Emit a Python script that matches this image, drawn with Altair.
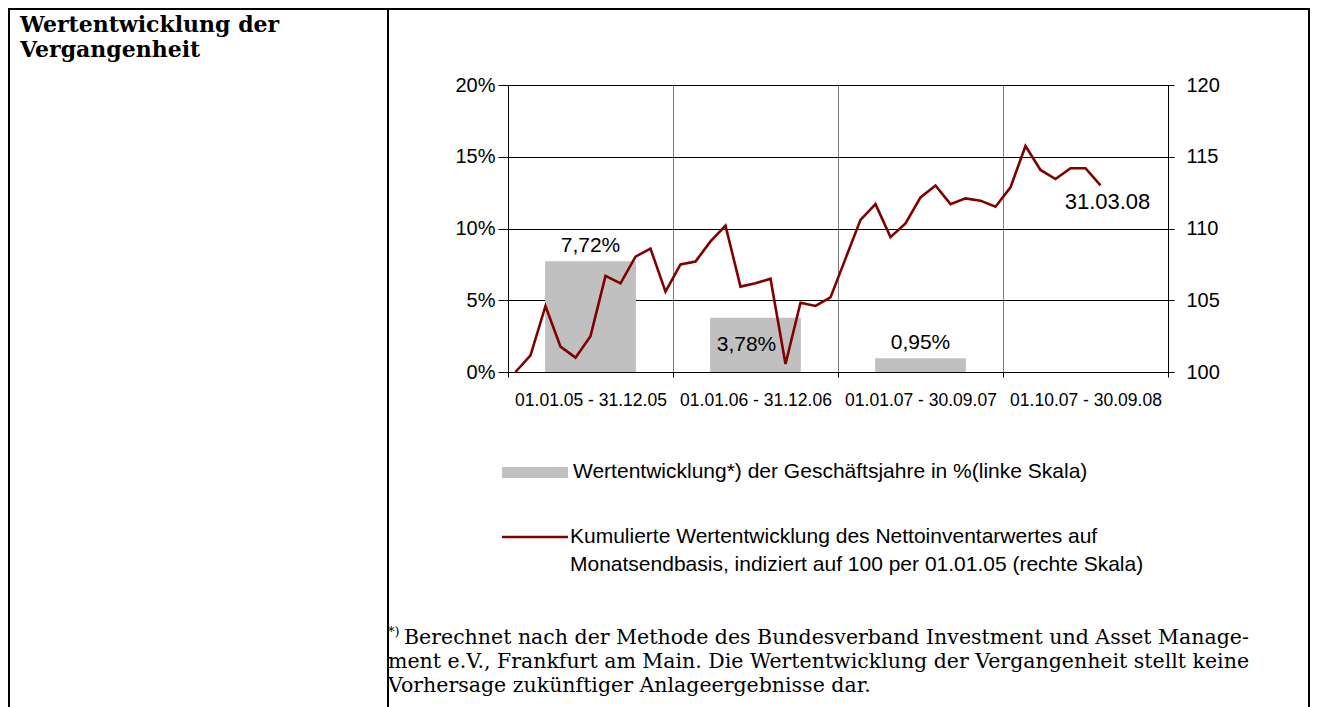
import altair as alt
import pandas as pd

# ---------------- data ----------------
periods = ["01.01.05 - 31.12.05", "01.01.06 - 31.12.06",
           "01.01.07 - 30.09.07", "01.10.07 - 30.09.08"]
annual_periods = periods[:3]
annual_pct = [7.72, 3.78, 0.95]
annual_text = ["7,72%", "3,78%", "0,95%"]

index_values = [100.0, 101.16, 104.6, 101.77, 101.0, 102.5, 106.7, 106.18, 108.04, 108.6,
                105.6, 107.5, 107.7, 109.1, 110.2, 105.95, 106.18, 106.5, 100.56, 104.83,
                104.6, 105.2, 107.9, 110.6, 111.7, 109.4, 110.35, 112.17, 113.0, 111.7,
                112.1, 111.94, 111.52, 112.87, 115.75, 114.08, 113.45, 114.2, 114.2, 113.0]
month_slots = list(pd.date_range("2005-01-01", periods=44, freq="MS").strftime("%Y-%m"))
last_label = "31.03.08"

left_ticks = [0, 5, 10, 15, 20]
right_ticks = [100, 105, 110, 115, 120]

title_lines = ["Wertentwicklung der", "Vergangenheit"]
legend_bar_text = "Wertentwicklung*) der Geschäftsjahre in %(linke Skala)"
legend_line_text = ["Kumulierte Wertentwicklung des Nettoinventarwertes auf",
                    "Monatsendbasis, indiziert auf 100 per 01.01.05 (rechte Skala)"]
footnote_mark = "*)"
footnote_first = "Berechnet nach der Methode des Bundesverband Investment und Asset Manage-"
footnote_rest = ["ment e.V., Frankfurt am Main. Die Wertentwicklung der Vergangenheit stellt keine",
                 "Vorhersage zukünftiger Anlageergebnisse dar."]

SANS = "Liberation Sans, Arial, sans-serif"
SERIF = "DejaVu Serif, Liberation Serif, serif"
BAR_COLOR = "#C0C0C0"
LINE_COLOR = "#800000"

bar_df = pd.DataFrame({"period": annual_periods, "value": annual_pct, "label": annual_text})
line_df = pd.DataFrame({"slot": month_slots[:len(index_values)], "index": index_values})
last_df = line_df.tail(1).assign(label=last_label)

x_bar = alt.X("period:N", sort=periods,
              scale=alt.Scale(domain=periods, paddingInner=0, paddingOuter=0),
              axis=alt.Axis(title=None, tickBand="extent", grid=True, gridColor="#808080",
                            gridWidth=1, domainColor="black", tickColor="black", tickSize=5,
                            labelAngle=0, labelFont=SANS, labelFontSize=17.5, labelColor="black",
                            labelPadding=14))
y_bar = alt.Y("value:Q", scale=alt.Scale(domain=[0, 20], nice=False),
              axis=alt.Axis(title=None, values=left_ticks, labelExpr="datum.value + '%'",
                            grid=True, gridColor="black", gridWidth=1, domainColor="black",
                            tickColor="black", tickSize=10, labelPadding=3, labelFont=SANS,
                            labelFontSize=20, labelColor="black"))

bars = alt.Chart(bar_df).mark_bar(color=BAR_COLOR, width=alt.RelativeBandSize(0.55)).encode(
    x=x_bar, y=y_bar)
labels_above = alt.Chart(bar_df).transform_filter(
    alt.datum.period != periods[1]).mark_text(
    font=SANS, fontSize=21, color="black", baseline="middle", dy=-15).encode(
    x=x_bar, y=y_bar, text="label:N")
labels_inside = alt.Chart(bar_df).transform_filter(
    alt.datum.period == periods[1]).mark_text(
    font=SANS, fontSize=21, color="black", baseline="middle", dy=27, dx=-9).encode(
    x=x_bar, y=y_bar, text="label:N")
bar_layer = alt.layer(bars, labels_above, labels_inside)

x_line = alt.X("slot:N", scale=alt.Scale(type="point", domain=month_slots, padding=0.5), axis=None)
y_line = alt.Y("index:Q", scale=alt.Scale(domain=[100, 120], nice=False, zero=False),
               axis=alt.Axis(title=None, orient="right", values=right_ticks, grid=False,
                             domainColor="black", tickColor="black", tickSize=6,
                             labelPadding=12, labelFont=SANS, labelFontSize=20,
                             labelColor="black"))
line = alt.Chart(line_df).mark_line(color=LINE_COLOR, strokeWidth=2.6).encode(x=x_line, y=y_line)
end_text = alt.Chart(last_df).mark_text(
    font=SANS, fontSize=22, color="black", baseline="middle", dx=7, dy=17).encode(
    x=x_line, y=y_line, text="label:N")
line_layer = alt.layer(line, end_text)

one = alt.Data(values=[{}])


def rule(x1, x2, y1, y2, color="black", w=2):
    return alt.Chart(one).mark_rule(color=color, strokeWidth=w).encode(
        x=alt.value(x1), x2=alt.value(x2), y=alt.value(y1), y2=alt.value(y2))


borders = [
    rule(-500, 802, -76, -76),
    rule(-499, -499, -77, 622),
    rule(-120, -120, -77, 622),
    rule(801, 801, -77, 622),
]

title = alt.Chart(one).mark_text(font=SERIF, fontSize=22, fontWeight="bold", align="left",
                                 baseline="alphabetic", lineHeight=25, color="black").encode(
    x=alt.value(-488), y=alt.value(-53), text=alt.value(title_lines))

legend_swatch = alt.Chart(one).mark_rect(color=BAR_COLOR).encode(
    x=alt.value(-6), x2=alt.value(60), y=alt.value(382), y2=alt.value(393))
legend_bar_label = alt.Chart(one).mark_text(font=SANS, fontSize=21, align="left",
                                            baseline="middle", color="black").encode(
    x=alt.value(65), y=alt.value(387), text=alt.value(legend_bar_text))
legend_line = rule(-6, 60, 452, 452, color=LINE_COLOR, w=2.5)
legend_line_label = alt.Chart(one).mark_text(font=SANS, fontSize=21, align="left",
                                             baseline="middle", lineHeight=28,
                                             color="black").encode(
    x=alt.value(62), y=alt.value(452), text=alt.value(legend_line_text))

foot_mark = alt.Chart(one).mark_text(font=SERIF, fontSize=13, align="left",
                                     baseline="alphabetic", color="black").encode(
    x=alt.value(-120), y=alt.value(551), text=alt.value(footnote_mark))
foot_first = alt.Chart(one).mark_text(font=SERIF, fontSize=20.5, align="left",
                                      baseline="alphabetic", color="black").encode(
    x=alt.value(-104), y=alt.value(559), text=alt.value(footnote_first))
foot_rest = alt.Chart(one).mark_text(font=SERIF, fontSize=20.5, align="left",
                                     baseline="alphabetic", lineHeight=24, color="black").encode(
    x=alt.value(-120), y=alt.value(583), text=alt.value(footnote_rest))

chart = alt.layer(
    bar_layer, line_layer, *borders, title, legend_swatch, legend_bar_label,
    legend_line, legend_line_label, foot_mark, foot_first, foot_rest
).resolve_scale(x="independent", y="independent").properties(
    width=660, height=287,
    padding={"left": 500, "top": 77, "right": 142, "bottom": 335},
    autosize=alt.AutoSizeParams(type="none"),
    background="white",
).configure_view(stroke="black", strokeWidth=1)

chart.save("out.html", embed_options={"renderer": "svg", "actions": False})
